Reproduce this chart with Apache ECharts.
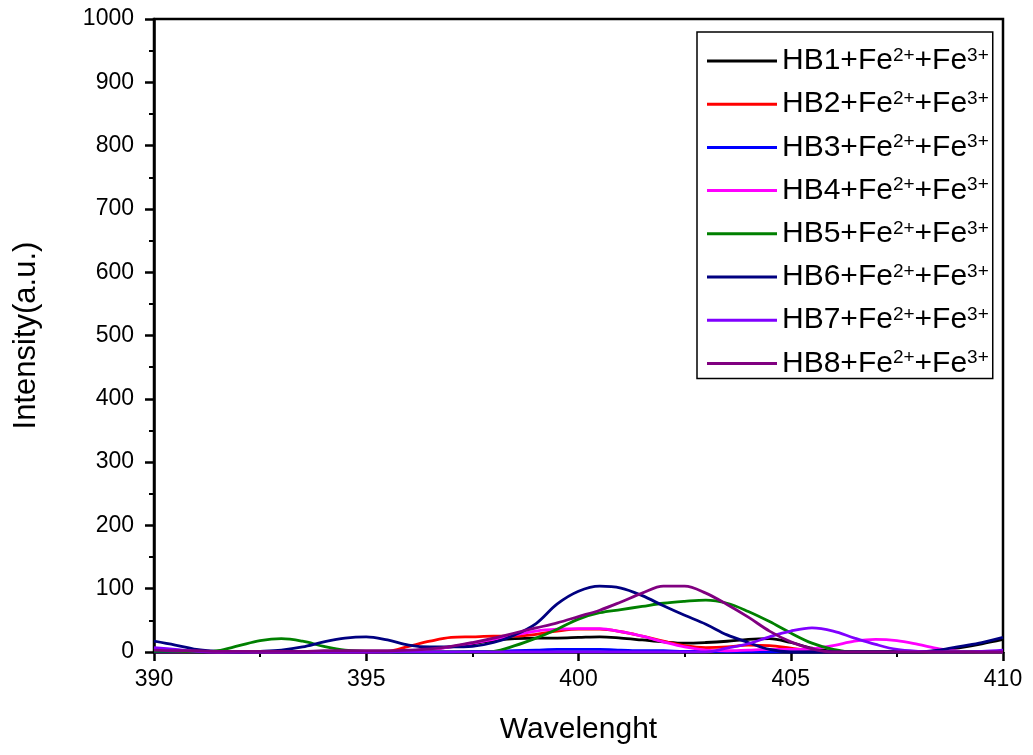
<!DOCTYPE html>
<html>
<head>
<meta charset="utf-8">
<script src="https://cdn.jsdelivr.net/npm/echarts@6/dist/echarts.min.js"></script>
<style>
  html, body { margin: 0; padding: 0; background: #fff; }
  #chart { width: 1033px; height: 755px; }
</style>
</head>
<body>
<div id="chart"></div>
<script>
// Emission spectra, wavelength in nm
const wavelength = [390, 390.5, 391, 391.5, 392, 392.5, 393, 393.5, 394, 394.5, 395, 395.5,
  396, 396.5, 397, 397.5, 398, 398.5, 399, 399.5, 400, 400.5, 401, 401.5, 402, 402.5,
  403, 403.5, 404, 404.5, 405, 405.5, 406, 406.5, 407, 407.5, 408, 408.5, 409, 409.5, 410];

const hb1 = [1, 1, 0, 0, 0, 0, 0, 0, 0, 0, 0, 0, 1, 4, 8, 13, 18, 21, 22, 22, 23, 24, 22, 19, 16, 14,
  15, 17, 20, 21, 15, 6, 1, 0, 0, 0, 0, 2, 7, 13, 20];
const hb2 = [0, 0, 0, 0, 0, 0, 0, 0, 0, 0, 0, 1, 9, 17, 23, 24, 25, 25, 28, 33, 36, 36, 32, 25, 17, 10,
  7, 8, 11, 10, 6, 2, 0, 0, 0, 0, 0, 0, 0, 0, 0];
const hb3 = [0, 0, 0, 0, 0, 0, 0, 0, 0, 0, 0, 0, 0, 0, 0, 1, 1, 2, 3, 4, 4, 4, 3, 2, 2, 1,
  1, 0, 0, 0, 0, 0, 0, 0, 0, 0, 0, 0, 0, 0, 0];
const hb4 = [3, 2, 1, 0, 0, 0, 0, 0, 0, 0, 0, 0, 2, 4, 8, 14, 20, 27, 33, 36, 37, 37, 32, 25, 16, 8,
  3, 2, 3, 4, 4, 5, 10, 17, 20, 18, 12, 5, 1, 0, 0];
const hb5 = [1, 1, 0, 2, 10, 18, 21, 17, 9, 3, 1, 0, 0, 0, 0, 0, 1, 10, 22, 36, 52, 62, 67, 72, 77, 80,
  82, 77, 64, 48, 30, 14, 4, 0, 0, 0, 0, 0, 0, 0, 0];
const hb6 = [17, 11, 4, 1, 0, 1, 3, 8, 16, 22, 24, 19, 11, 8, 8, 9, 15, 27, 45, 76, 96, 104, 101, 89, 73, 58,
  44, 27, 15, 4, 0, 0, 0, 0, 0, 0, 0, 3, 9, 15, 23];
const hb7 = [7, 4, 1, 0, 0, 0, 0, 0, 0, 0, 0, 0, 0, 0, 0, 0, 0, 0, 0, 0, 0, 0, 0, 0, 0, 0,
  0, 6, 13, 24, 33, 38, 33, 22, 12, 4, 1, 0, 0, 1, 3];
const hb8 = [3, 2, 2, 1, 1, 1, 1, 1, 2, 2, 2, 2, 3, 5, 9, 15, 22, 30, 38, 46, 56, 66, 79, 93, 104, 104,
  93, 75, 55, 33, 16, 5, 0, 0, 0, 0, 0, 0, 0, 0, 0];

const sampleNames = ['HB1', 'HB2', 'HB3', 'HB4', 'HB5', 'HB6', 'HB7', 'HB8'];
const sampleValues = [hb1, hb2, hb3, hb4, hb5, hb6, hb7, hb8];
const sampleColors = ['#000000', '#ff0000', '#0000ff', '#ff00ff', '#008000', '#000080', '#8000ff', '#800080'];

const FONT = 'Arial, "Liberation Sans", sans-serif';

const chart = echarts.init(document.getElementById('chart'), null, { renderer: 'canvas' });

const series = sampleNames.map((name, i) => ({
  name: name,
  type: 'line',
  smooth: 0.35,
  symbol: 'none',
  color: sampleColors[i],
  lineStyle: { width: 2.8, color: sampleColors[i] },
  data: wavelength.map((w, k) => [w, sampleValues[i][k]])
}));

const axisLine = { show: true, lineStyle: { color: '#000', width: 2.5 } };

chart.setOption({
  backgroundColor: '#fff',
  animation: false,
  grid: {
    left: 154, right: 30, top: 19, bottom: 103,
    show: true, borderColor: '#000', borderWidth: 2.5, backgroundColor: 'transparent'
  },
  legend: {
    orient: 'vertical',
    left: 697, top: 32,
    padding: [14, 4, 0, 10],
    itemGap: 13.2,
    itemWidth: 70,
    itemHeight: 3,
    icon: 'rect',
    borderColor: '#000',
    borderWidth: 1.5,
    backgroundColor: '#fff',
    data: sampleNames,
    formatter: name => `{b|${name}+Fe}{s|2+}{b|+Fe}{s|3+}`,
    textStyle: {
      fontFamily: FONT,
      color: '#000',
      rich: {
        b: { fontFamily: FONT, fontSize: 30, color: '#000', lineHeight: 30 },
        s: { fontFamily: FONT, fontSize: 19, color: '#000', lineHeight: 11, verticalAlign: 'top' }
      }
    }
  },
  xAxis: {
    type: 'value',
    min: 390, max: 410, interval: 5,
    name: 'Wavelenght',
    nameLocation: 'middle',
    nameGap: 63,
    nameTextStyle: { fontFamily: FONT, fontSize: 30, color: '#000' },
    axisLine: axisLine,
    axisTick: { show: true, inside: false, length: 9, lineStyle: { color: '#000', width: 2.5 } },
    minorTick: { show: true, splitNumber: 2, length: 5, lineStyle: { color: '#000', width: 2 } },
    splitLine: { show: false },
    axisLabel: { fontFamily: FONT, fontSize: 23, color: '#000', margin: 16 }
  },
  yAxis: {
    type: 'value',
    min: 0, max: 1000, interval: 100,
    name: 'Intensity(a.u.)',
    nameLocation: 'middle',
    nameGap: 112,
    nameTextStyle: { fontFamily: FONT, fontSize: 31, color: '#000' },
    axisLine: axisLine,
    axisTick: { show: true, inside: false, length: 9, lineStyle: { color: '#000', width: 2.5 } },
    minorTick: { show: true, splitNumber: 2, length: 5, lineStyle: { color: '#000', width: 2 } },
    splitLine: { show: false },
    axisLabel: { fontFamily: FONT, fontSize: 23, color: '#000', margin: 20, formatter: v => String(v) }
  },
  series: series
});
</script>
</body>
</html>
